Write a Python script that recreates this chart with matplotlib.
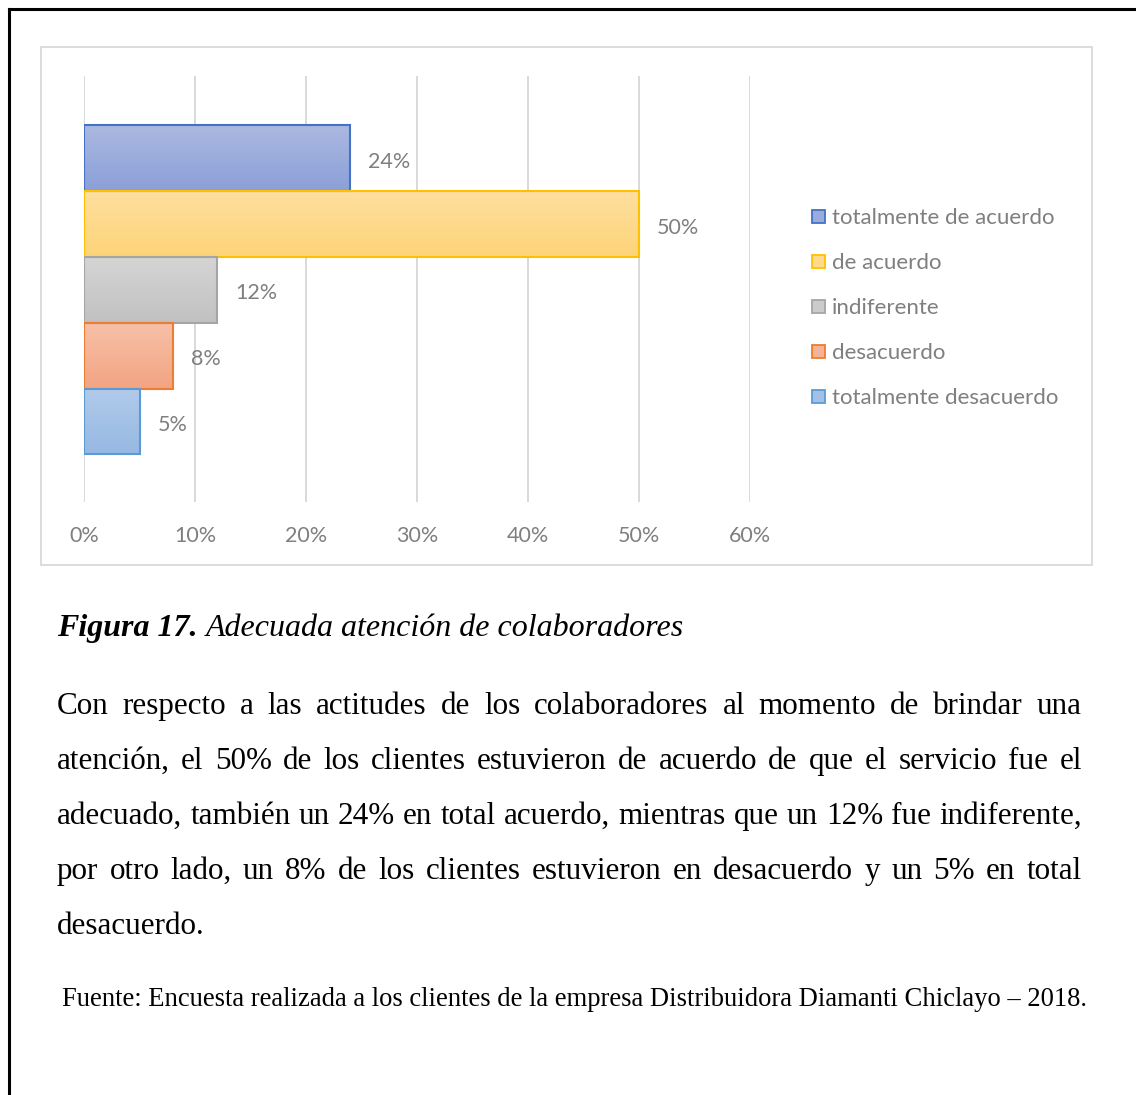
import matplotlib
matplotlib.use("Agg")
import matplotlib.pyplot as plt
import numpy as np
from matplotlib.patches import Rectangle
from matplotlib.lines import Line2D
from matplotlib.colors import LinearSegmentedColormap

# ---- data ----
categories = ["totalmente de acuerdo", "de acuerdo", "indiferente",
              "desacuerdo", "totalmente desacuerdo"]
values = [0.24, 0.50, 0.12, 0.08, 0.05]
value_labels = ["24%", "50%", "12%", "8%", "5%"]
x_ticks = [0.0, 0.1, 0.2, 0.3, 0.4, 0.5, 0.6]
x_tick_labels = ["0%", "10%", "20%", "30%", "40%", "50%", "60%"]

caption_bold = "Figura 17."
caption_rest = "Adecuada atención de colaboradores"
body_lines = [
    "Con respecto a las actitudes de los colaboradores al momento de brindar una",
    "atención, el 50% de los clientes estuvieron de acuerdo de que el servicio fue el",
    "adecuado, también un 24% en total acuerdo, mientras que un 12% fue indiferente,",
    "por otro lado, un 8% de los clientes estuvieron en desacuerdo y un 5% en total",
    "desacuerdo.",
]
source_text = ("Fuente: Encuesta realizada a los clientes de la empresa "
               "Distribuidora Diamanti Chiclayo – 2018.")

# ---- styles ----
edge_colors = ["#4472C4", "#FFC000", "#A5A5A5", "#ED7D31", "#5B9BD5"]
grad_top = ["#ABB8E1", "#FFDF9F", "#D5D5D5", "#F7C0A8", "#B1CBEA"]
grad_bottom = ["#8BA0D8", "#FED479", "#C1C1C1", "#F3A482", "#96B8E2"]
legend_fill = ["#9BACDC", "#FFD98C", "#CBCBCB", "#F5B295", "#A3C1E6"]
text_gray = "#7F7F7F"
grid_gray = "#D9D9D9"
chart_font = "Lato"
serif_font = "Liberation Serif"

W, H, DPI = 1136, 1095, 100
fig = plt.figure(figsize=(W / DPI, H / DPI), dpi=DPI)
fig.patch.set_facecolor("white")


def fx(px):
    return px / W


def fy(py):
    return 1 - py / H


# page border (left and top rules)
fig.add_artist(Line2D([fx(9), fx(9)], [fy(9), 0], color="black", lw=2.2,
                      transform=fig.transFigure, solid_capstyle="projecting"))
fig.add_artist(Line2D([fx(9), 1], [fy(9), fy(9)], color="black", lw=2.2,
                      transform=fig.transFigure, solid_capstyle="projecting"))

# chart frame
fig.add_artist(Rectangle((fx(41), fy(565)), fx(1092) - fx(41), fy(47) - fy(565),
                         fill=False, edgecolor=grid_gray, lw=1.3,
                         transform=fig.transFigure))

# ---- plot area ----
ax = fig.add_axes([fx(84), fy(502), fx(750) - fx(84), fy(76) - fy(502)])
bar_h = 0.1545
n = len(values)
centers = [((n - 1) / 2 - i) * bar_h - 0.002 for i in range(n)]

bars = ax.barh(centers, values, height=bar_h, facecolor="none",
               edgecolor=edge_colors, linewidth=1.5, zorder=3)
grad = np.linspace(0, 1, 256).reshape(-1, 1)
for i, bar in enumerate(bars):
    cmap = LinearSegmentedColormap.from_list(f"g{i}", [grad_top[i], grad_bottom[i]])
    im = ax.imshow(grad, cmap=cmap, origin="upper", aspect="auto",
                   interpolation="bicubic",
                   extent=[0, values[i], centers[i] - bar_h / 2, centers[i] + bar_h / 2],
                   zorder=2)
    im.set_clip_path(bar)
    ax.annotate(value_labels[i], xy=(values[i], centers[i]), xytext=(13, -2.5),
                textcoords="offset points", ha="left", va="center",
                fontsize=15.5, color=text_gray, family=chart_font, zorder=4)

ax.set_xlim(0, 0.6)
ax.set_ylim(-0.5, 0.5)
ax.set_xticks(x_ticks)
ax.set_xticklabels(x_tick_labels, fontsize=15.5, color=text_gray, family=chart_font)
ax.set_yticks([])
ax.tick_params(axis="x", length=0, pad=17.5)
ax.grid(axis="x", color=grid_gray, lw=1.4, zorder=0)
ax.set_axisbelow(True)
for s in ax.spines.values():
    s.set_visible(False)
ax.patch.set_alpha(0)

# ---- legend ----
for i, cat in enumerate(categories):
    cy = 216 + 45 * i
    fig.add_artist(Rectangle((fx(812), fy(cy + 6.5)), fx(825) - fx(812),
                             fy(cy - 6.5) - fy(cy + 6.5),
                             facecolor=legend_fill[i], edgecolor=edge_colors[i],
                             lw=1.3, transform=fig.transFigure))
    fig.text(fx(832), fy(cy + 2), cat, ha="left", va="center", fontsize=16,
             color=text_gray, family=chart_font)

# ---- text below the chart ----
renderer = fig.canvas.get_renderer()


def width_px(s, **kw):
    t = fig.text(0, 0, s, **kw)
    w = t.get_window_extent(renderer).width
    t.remove()
    return w


left_px, right_px = 57, 1082
body_size = 20 * (right_px - left_px - 4) / width_px(body_lines[2], fontsize=20,
                                                      family=serif_font)

# caption
cap_size = body_size * 1.028
cap_kw = dict(fontsize=cap_size, family=serif_font, color="black", va="baseline")
fig.text(fx(left_px), fy(636), caption_bold, fontweight="bold", style="italic", **cap_kw)
wb = width_px(caption_bold + " ", fontweight="bold", style="italic",
              fontsize=cap_size, family=serif_font)
fig.text(fx(left_px + wb), fy(636), caption_rest, style="italic", **cap_kw)

# justified paragraph
baselines = [714, 769, 824, 879, 934]
for k, line in enumerate(body_lines):
    words = line.split()
    if k == len(body_lines) - 1:
        fig.text(fx(left_px), fy(baselines[k]), line, fontsize=body_size,
                 family=serif_font, va="baseline")
        continue
    widths = [width_px(w, fontsize=body_size, family=serif_font) for w in words]
    gap = (right_px - left_px - sum(widths)) / (len(words) - 1)
    x = left_px
    for w, wd in zip(words, widths):
        fig.text(fx(x), fy(baselines[k]), w, fontsize=body_size,
                 family=serif_font, va="baseline")
        x += wd + gap

# source line
src_left, src_right = 62, 1087
src_size = 16 * (src_right - src_left) / width_px(source_text, fontsize=16,
                                                  family=serif_font)
fig.text(fx(src_left), fy(1006), source_text, fontsize=src_size,
         family=serif_font, va="baseline")

fig.savefig("out.png", dpi=DPI, facecolor="white")
